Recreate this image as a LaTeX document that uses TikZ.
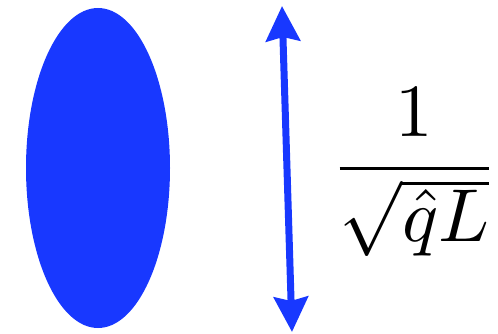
\documentclass[tikz,border=0pt]{standalone}
\usepackage{amsmath}
\usetikzlibrary{arrows.meta,shapes.geometric}
\definecolor{vivid}{RGB}{24,56,255}

\begin{document}
\begin{tikzpicture}[
    x=1pt, y=1pt,
    blob/.style={fill=vivid, draw=none},
    span/.style={{Stealth[length=35pt,width=34pt,inset=4pt]}-{Stealth[length=35pt,width=34pt,inset=4pt]},
                 draw=vivid, line width=7pt},
    label/.style={inner sep=0pt, scale=7.5}
  ]
  \useasboundingbox (0,0) rectangle (498,333);

  \node[blob, ellipse, minimum width=144pt, minimum height=320pt, inner sep=0pt]
    (drop) at (98,165) {};

  \coordinate (top) at (282,327);
  \coordinate (bottom) at (292,1);
  \draw[span] (top) -- (bottom);

  \node[label] (scale) at (414.5,160.5)
    {$\displaystyle\frac{1}{\sqrt{\hat{q}L}}$};
\end{tikzpicture}
\end{document}
